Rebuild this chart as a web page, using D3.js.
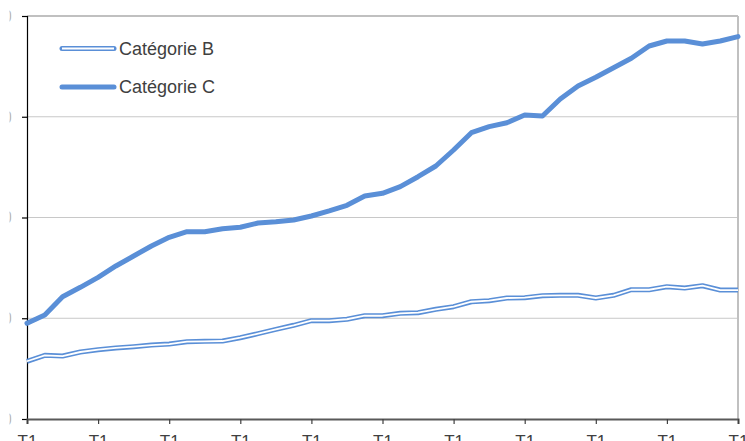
<!DOCTYPE html>
<html>
<head>
<meta charset="utf-8">
<script src="https://cdn.jsdelivr.net/npm/d3@7"></script>
<style>
  html, body { margin: 0; padding: 0; background: #fff; }
  svg { display: block; }
</style>
</head>
<body>
<svg id="chart" width="745" height="441"></svg>
<script>
const periods = [
  "T1","T2","T3","T4","T1","T2","T3","T4","T1","T2","T3","T4",
  "T1","T2","T3","T4","T1","T2","T3","T4","T1","T2","T3","T4",
  "T1","T2","T3","T4","T1","T2","T3","T4","T1","T2","T3","T4",
  "T1","T2","T3","T4","T1"
];
const seriesNames = ["Catégorie B", "Catégorie C"];
const valuesB = [57.3,63.2,62.5,66.5,68.8,70.5,71.8,73.4,74.4,76.7,77.1,77.4,80.7,84.7,89.0,93.0,
  97.6,97.6,99.0,102.5,102.5,104.9,105.5,108.9,111.5,116.4,117.4,120.1,120.4,122.4,122.8,122.8,
  120.1,122.8,128.3,128.3,131.3,130.0,132.3,128.0,128.0];
const valuesC = [95.0,103.2,121.4,130.7,140.6,151.9,161.8,171.7,180.3,185.9,185.9,188.9,190.3,194.5,
  195.8,197.5,201.5,206.5,212.1,221.3,224.0,230.6,240.5,251.1,267.0,284.2,290.2,294.1,301.7,300.7,
  317.6,330.5,339.2,348.7,358.0,370.2,375.2,375.2,372.2,375.2,379.5];
const yTicks = [0, 100, 200, 300, 400];

const W = 745, H = 441;
const m = { left: 27, right: 7, top: 16, bottom: 22 };
const svg = d3.select("#chart");
const blue = "#5a8fd7";

const x = d3.scaleLinear().domain([0, periods.length - 1]).range([m.left, W - m.right]);
const y = d3.scaleLinear().domain([0, 400]).range([H - m.bottom, m.top]);

// gridlines
svg.append("g").selectAll("line").data(yTicks.slice(1, -1)).join("line")
  .attr("x1", m.left).attr("x2", W - m.right)
  .attr("y1", d => y(d)).attr("y2", d => y(d))
  .attr("stroke", "#c8c8c8").attr("stroke-width", 1);

// top & right border
svg.append("line").attr("x1", m.left).attr("x2", W - m.right)
  .attr("y1", y(400)).attr("y2", y(400)).attr("stroke", "#c0c0c0").attr("stroke-width", 2);
svg.append("line").attr("x1", W - m.right).attr("x2", W - m.right)
  .attr("y1", y(400)).attr("y2", y(0)).attr("stroke", "#c0c0c0").attr("stroke-width", 2);

// y-axis labels clipped (only a sliver visible)
svg.append("defs").append("clipPath").attr("id", "ylabclip")
  .append("rect").attr("x", 9.5).attr("y", 0).attr("width", 2).attr("height", H);

const yAxis = svg.append("g").attr("transform", `translate(${m.left},0)`)
  .call(d3.axisLeft(y).tickValues(yTicks).tickSize(5).tickPadding(4));
yAxis.select(".domain").attr("stroke", "#000").attr("stroke-width", 1.2);
yAxis.selectAll(".tick line").attr("stroke", "#000").attr("stroke-width", 1.2);
yAxis.selectAll(".tick text").remove();
svg.append("g").attr("clip-path", "url(#ylabclip)")
  .selectAll("text").data(yTicks).join("text")
  .attr("x", 12).attr("y", d => y(d)).attr("dy", "0.35em")
  .attr("text-anchor", "end").attr("fill", "#bbbbbb")
  .style("font", "17px 'Liberation Sans', Arial, sans-serif")
  .text(d => d);

// x-axis
const xTickIdx = d3.range(0, periods.length, 4);
const xAxis = svg.append("g").attr("transform", `translate(0,${y(0)})`)
  .call(d3.axisBottom(x).tickValues(xTickIdx).tickFormat(i => periods[i]).tickSize(5).tickPadding(10));
xAxis.select(".domain").attr("stroke", "#595959").attr("stroke-width", 2);
xAxis.selectAll(".tick line").attr("stroke", "#404040").attr("stroke-width", 1.2);
xAxis.selectAll(".tick text").attr("fill", "#404040")
  .style("font", "17px 'Liberation Sans', Arial, sans-serif")
  .attr("dy", "0.71em").attr("y", 16);

const line = d3.line().x((d, i) => x(i)).y(d => y(d));

// Catégorie C (thick)
svg.append("path").datum(valuesC).attr("d", line)
  .attr("fill", "none").attr("stroke", blue).attr("stroke-width", 5)
  .attr("stroke-linejoin", "round").attr("stroke-linecap", "round");

// Catégorie B (double line)
svg.append("path").datum(valuesB).attr("d", line)
  .attr("fill", "none").attr("stroke", blue).attr("stroke-width", 5)
  .attr("stroke-linejoin", "round");
svg.append("path").datum(valuesB).attr("d", line)
  .attr("fill", "none").attr("stroke", "#fff").attr("stroke-width", 1.8)
  .attr("stroke-linejoin", "round");

// legend
const leg = svg.append("g");
const legY = [48.5, 87];
seriesNames.forEach((name, k) => {
  const g = leg.append("g").attr("transform", `translate(0,${legY[k]})`);
  g.append("line").attr("x1", 62).attr("x2", 114).attr("y1", 0).attr("y2", 0)
    .attr("stroke", blue).attr("stroke-width", 5).attr("stroke-linecap", "round");
  if (k === 0) {
    g.append("line").attr("x1", 62).attr("x2", 114).attr("y1", 0).attr("y2", 0)
      .attr("stroke", "#fff").attr("stroke-width", 1.8);
  }
  g.append("text").attr("x", 119).attr("y", 0).attr("dy", "0.35em")
    .attr("fill", "#404040")
    .style("font", "18px 'Liberation Sans', Arial, sans-serif")
    .text(name);
});
</script>
</body>
</html>
